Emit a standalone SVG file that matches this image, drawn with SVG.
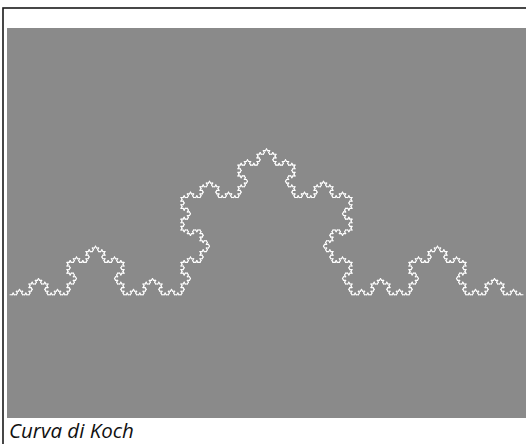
<svg xmlns="http://www.w3.org/2000/svg" width="526" height="444" viewBox="0 0 526 444">
<style>
.seg{fill:none;stroke:#ffffff;stroke-width:0.55;stroke-linecap:round}
.cap{font-family:"Open Sans",sans-serif;font-style:italic;font-size:20.5px;fill:#111}
</style>
<defs>
<g id="k0"><path class="seg" d="M0,0H1"/></g>
<g id="k1"><use href="#k0"/><use href="#k0" transform="translate(1,0) rotate(-60)"/><use href="#k0" transform="translate(1.5,-0.8660254) rotate(60)"/><use href="#k0" transform="translate(2,0)"/></g>
<g id="k2"><use href="#k1"/><use href="#k1" transform="translate(3,0) rotate(-60)"/><use href="#k1" transform="translate(4.5,-2.5980762) rotate(60)"/><use href="#k1" transform="translate(6,0)"/></g>
<g id="k3"><use href="#k2"/><use href="#k2" transform="translate(9,0) rotate(-60)"/><use href="#k2" transform="translate(13.5,-7.7942286) rotate(60)"/><use href="#k2" transform="translate(18,0)"/></g>
<g id="k4"><use href="#k3"/><use href="#k3" transform="translate(27,0) rotate(-60)"/><use href="#k3" transform="translate(40.5,-23.3826859) rotate(60)"/><use href="#k3" transform="translate(54,0)"/></g>
<g id="k5"><use href="#k4"/><use href="#k4" transform="translate(81,0) rotate(-60)"/><use href="#k4" transform="translate(121.5,-70.1480577) rotate(60)"/><use href="#k4" transform="translate(162,0)"/></g>
</defs>
<rect x="0" y="0" width="526" height="444" fill="#ffffff"/>
<rect x="3" y="8" width="600" height="500" fill="none" stroke="#1a1a1a" stroke-width="1.6"/>
<rect x="7" y="28" width="519" height="390" fill="#8a8a8a"/>
<g id="koch-curve">
<use href="#k5" transform="translate(10,294.8) scale(2.1111,2.08)"/>
</g>
<text class="cap" x="9" y="438">Curva di Koch</text>
</svg>
